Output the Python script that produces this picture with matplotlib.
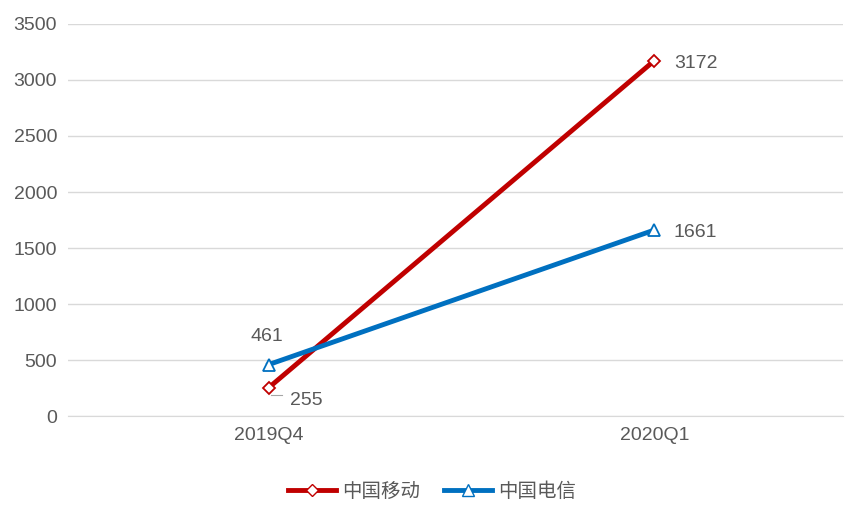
import matplotlib
matplotlib.use("Agg")
import matplotlib.pyplot as plt
from matplotlib.lines import Line2D

plt.rcParams['font.family'] = ['Liberation Sans', 'Noto Sans CJK SC', 'DejaVu Sans']

categories = ["2019Q4", "2020Q1"]
mobile = [255, 3172]
telecom = [461, 1661]
names = ["中国移动", "中国电信"]
yticks = [0, 500, 1000, 1500, 2000, 2500, 3000, 3500]

fig = plt.figure(figsize=(8.64, 5.19), dpi=100)
ax = fig.add_axes([0.079, 0.198, 0.897, 0.756])
red, blue, grey = "#C00000", "#0070C0", "#595959"
x = list(range(len(categories)))
ax.plot(x, mobile, color=red, lw=3.5, marker="D", ms=6, mfc="white", mec=red, mew=1.3, zorder=3)
ax.plot(x, telecom, color=blue, lw=3.5, marker="^", ms=8, mfc="white", mec=blue, mew=1.3, zorder=3)

ax.set_xlim(-0.52, 1.49)
ax.set_ylim(0, 3500)
ax.set_yticks(yticks)
ax.set_xticks(x)
ax.set_xticklabels(categories)
ax.grid(axis="y", color="#D9D9D9", lw=1)
ax.set_axisbelow(True)
for s in ["top", "right", "left"]:
    ax.spines[s].set_visible(False)
ax.spines["bottom"].set_color("#D9D9D9")
ax.tick_params(length=0, labelsize=14, colors=grey, pad=8)

fs = 14
ax.annotate(str(telecom[0]), (x[0], telecom[0]), xytext=(-1, 14), textcoords="offset points",
            ha="center", va="bottom", fontsize=fs, color=grey)
ax.annotate(str(mobile[0]), (x[0], mobile[0]), xytext=(15, -9), textcoords="offset points",
            ha="left", va="center", fontsize=fs, color=grey)
ax.plot([x[0] + 0.005, x[0] + 0.035], [mobile[0] - 65, mobile[0] - 65], color="#A6A6A6", lw=0.8)
ax.annotate(str(mobile[1]), (x[1], mobile[1]), xytext=(14, -2), textcoords="offset points",
            ha="left", va="center", fontsize=fs, color=grey)
ax.annotate(str(telecom[1]), (x[1], telecom[1]), xytext=(14, -2), textcoords="offset points",
            ha="left", va="center", fontsize=fs, color=grey)

handles = [Line2D([], [], color=red, lw=3.5, marker="D", ms=6, mfc="white", mec=red),
           Line2D([], [], color=blue, lw=3.5, marker="^", ms=8, mfc="white", mec=blue)]
fig.legend(handles, names, loc="center", bbox_to_anchor=(0.5, 0.053), ncol=2, frameon=False,
           fontsize=14, labelcolor=grey, handlelength=2.5, columnspacing=1.2, handletextpad=0.3)
fig.savefig("out.png", dpi=100)
